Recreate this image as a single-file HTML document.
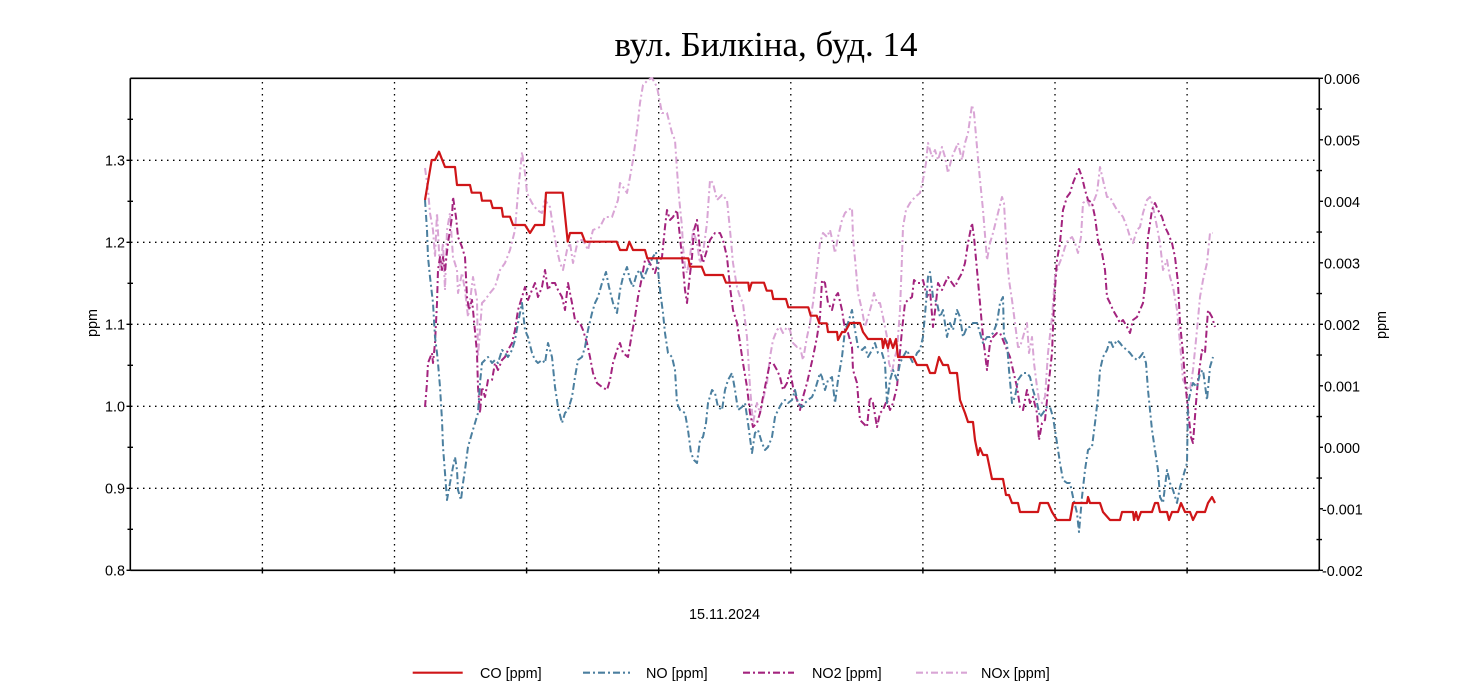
<!DOCTYPE html>
<html>
<head>
<meta charset="utf-8">
<style>
  html,body{margin:0;padding:0;background:#fff;}
  svg{display:block;}
  text{font-family:"Liberation Sans",Arial,sans-serif;font-size:14.4px;fill:#000;}
  .title{font-family:"Liberation Serif","Noto Serif CJK SC",serif;font-size:35px;}
</style>
</head>
<body>
<svg width="1471" height="697" viewBox="0 0 1471 697" xmlns="http://www.w3.org/2000/svg">
  <rect x="0" y="0" width="1471" height="697" fill="#fff"/>
  <!-- title -->
  <text class="title" x="766" y="56" text-anchor="middle">вул. Билкіна, буд. 14</text>

  <!-- grid -->
  <g stroke="#000" stroke-width="1.3" stroke-dasharray="1.5 4.5" fill="none">
    <line x1="131" y1="160.3" x2="1318" y2="160.3"/>
    <line x1="131" y1="242.3" x2="1318" y2="242.3"/>
    <line x1="131" y1="324.3" x2="1318" y2="324.3"/>
    <line x1="131" y1="406.3" x2="1318" y2="406.3"/>
    <line x1="131" y1="488.3" x2="1318" y2="488.3"/>
    <line x1="262.4" y1="82" x2="262.4" y2="569"/>
    <line x1="394.5" y1="82" x2="394.5" y2="569"/>
    <line x1="526.6" y1="82" x2="526.6" y2="569"/>
    <line x1="658.7" y1="82" x2="658.7" y2="569"/>
    <line x1="790.8" y1="82" x2="790.8" y2="569"/>
    <line x1="922.9" y1="82" x2="922.9" y2="569"/>
    <line x1="1055" y1="82" x2="1055" y2="569"/>
    <line x1="1187.1" y1="82" x2="1187.1" y2="569"/>
  </g>

  <!-- axes frame -->
  <g stroke="#000" stroke-width="1.6" fill="none">
    <line x1="130.3" y1="78.3" x2="1319.3" y2="78.3"/>
    <line x1="130.3" y1="78.3" x2="130.3" y2="570.3"/>
    <line x1="1319.3" y1="78.3" x2="1319.3" y2="570.3"/>
    <line x1="130.3" y1="570.3" x2="1319.3" y2="570.3"/>
  </g>
  <!-- ticks -->
  <g stroke="#000" stroke-width="1.4">
    <!-- left major -->
    <line x1="126.5" y1="160.3" x2="130.3" y2="160.3"/>
    <line x1="126.5" y1="242.3" x2="130.3" y2="242.3"/>
    <line x1="126.5" y1="324.3" x2="130.3" y2="324.3"/>
    <line x1="126.5" y1="406.3" x2="130.3" y2="406.3"/>
    <line x1="126.5" y1="488.3" x2="130.3" y2="488.3"/>
    <line x1="126.5" y1="570.3" x2="130.3" y2="570.3"/>
    <!-- left minor -->
    <line x1="127.5" y1="119.3" x2="133" y2="119.3"/>
    <line x1="127.5" y1="201.3" x2="133" y2="201.3"/>
    <line x1="127.5" y1="283.3" x2="133" y2="283.3"/>
    <line x1="127.5" y1="365.3" x2="133" y2="365.3"/>
    <line x1="127.5" y1="447.3" x2="133" y2="447.3"/>
    <line x1="127.5" y1="529.3" x2="133" y2="529.3"/>
    <!-- right major -->
    <line x1="1319.3" y1="78.3" x2="1323" y2="78.3"/>
    <line x1="1319.3" y1="139.8" x2="1323" y2="139.8"/>
    <line x1="1319.3" y1="201.3" x2="1323" y2="201.3"/>
    <line x1="1319.3" y1="262.8" x2="1323" y2="262.8"/>
    <line x1="1319.3" y1="324.3" x2="1323" y2="324.3"/>
    <line x1="1319.3" y1="385.8" x2="1323" y2="385.8"/>
    <line x1="1319.3" y1="447.3" x2="1323" y2="447.3"/>
    <line x1="1319.3" y1="508.8" x2="1323" y2="508.8"/>
    <line x1="1319.3" y1="570.3" x2="1323" y2="570.3"/>
    <!-- right minor -->
    <line x1="1316.5" y1="109.05" x2="1322" y2="109.05"/>
    <line x1="1316.5" y1="170.55" x2="1322" y2="170.55"/>
    <line x1="1316.5" y1="232.05" x2="1322" y2="232.05"/>
    <line x1="1316.5" y1="293.55" x2="1322" y2="293.55"/>
    <line x1="1316.5" y1="355.05" x2="1322" y2="355.05"/>
    <line x1="1316.5" y1="416.55" x2="1322" y2="416.55"/>
    <line x1="1316.5" y1="478.05" x2="1322" y2="478.05"/>
    <line x1="1316.5" y1="539.55" x2="1322" y2="539.55"/>
    <!-- bottom -->
    <line x1="262.4" y1="567.5" x2="262.4" y2="573.5"/>
    <line x1="394.5" y1="567.5" x2="394.5" y2="573.5"/>
    <line x1="526.6" y1="567.5" x2="526.6" y2="573.5"/>
    <line x1="658.7" y1="567.5" x2="658.7" y2="573.5"/>
    <line x1="790.8" y1="567.5" x2="790.8" y2="573.5"/>
    <line x1="922.9" y1="567.5" x2="922.9" y2="573.5"/>
    <line x1="1055" y1="567.5" x2="1055" y2="573.5"/>
    <line x1="1187.1" y1="567.5" x2="1187.1" y2="573.5"/>
  </g>

  <!-- left tick labels -->
  <g text-anchor="end">
    <text x="125" y="165.5">1.3</text>
    <text x="125" y="247.5">1.2</text>
    <text x="125" y="329.5">1.1</text>
    <text x="125" y="411.5">1.0</text>
    <text x="125" y="493.5">0.9</text>
    <text x="125" y="575.5">0.8</text>
  </g>
  <!-- right tick labels -->
  <g>
    <text x="1324" y="84">0.006</text>
    <text x="1324" y="145.5">0.005</text>
    <text x="1324" y="207">0.004</text>
    <text x="1324" y="268.5">0.003</text>
    <text x="1324" y="330">0.002</text>
    <text x="1324" y="391.5">0.001</text>
    <text x="1324" y="453">0.000</text>
    <text x="1322" y="514.5">-0.001</text>
    <text x="1322" y="576">-0.002</text>
  </g>

  <!-- axis labels -->
  <text x="0" y="0" text-anchor="middle" transform="translate(97,323) rotate(-90)">ppm</text>
  <text x="0" y="0" text-anchor="middle" transform="translate(1386,325) rotate(-90)">ppm</text>
  <text x="724.5" y="619" text-anchor="middle">15.11.2024</text>

  <!-- series -->
  <g fill="none" stroke-linejoin="round">
    <!-- NOx -->
    <polyline stroke="#d9a5d5" stroke-width="2" stroke-dasharray="7 3 2 3" points="425,168 428,190 430,213 433,230 435,257 437,213 440,270 443,243 445,290 447,230 450,213 453,257 457,270 458,293 462,273 465,290 468,317 473,277 477,300 478,357 482,303 485,300 490,293 495,287 500,270 505,263 510,250 515,230 518,193 522,152 525,173 527,193 532,203 537,210 542,213 545,200 550,207 553,227 557,250 560,263 563,270 567,250 570,243 573,263 578,240 583,240 588,250 593,230 600,227 605,217 612,217 618,200 620,183 623,187 627,193 630,177 633,160 637,130 640,103 643,85 648,80 652,78 657,87 662,113 667,113 672,133 675,140 677,170 679,197 682,227 683,247 685,267 687,273 690,257 693,230 697,243 700,263 703,253 707,223 710,180 713,183 717,200 722,195 727,200 730,230 733,263 737,287 740,297 743,303 747,337 750,387 753,423 757,403 760,413 763,400 767,383 770,357 773,340 777,330 780,327 783,333 787,327 790,330 793,343 797,347 800,347 803,360 807,337 810,323 813,303 817,270 820,243 823,233 827,237 830,230 833,243 835,253 838,237 842,220 845,213 848,210 852,208 853,237 856,270 858,293 862,310 865,327 868,317 872,303 874,293 877,303 880,303 883,317 887,337 889,363 892,373 894,360 897,350 900,310 902,257 903,227 906,210 910,203 915,197 920,193 923,180 926,163 928,143 932,157 935,150 938,160 942,147 945,157 948,173 952,157 955,150 958,143 962,160 965,143 968,133 972,105 974,113 977,147 980,180 983,210 987,260 990,243 993,233 998,213 1002,197 1004,203 1007,257 1009,280 1012,300 1015,323 1018,347 1020,347 1023,337 1027,323 1029,353 1032,337 1034,363 1037,387 1039,400 1042,403 1045,397 1048,353 1052,317 1055,277 1058,267 1062,257 1065,247 1068,240 1072,237 1075,243 1078,253 1081,237 1083,203 1087,200 1090,207 1093,203 1097,193 1100,167 1103,180 1107,197 1110,197 1113,203 1117,210 1120,213 1123,217 1127,227 1130,237 1133,243 1137,230 1140,227 1143,213 1147,200 1150,197 1153,207 1157,227 1160,243 1163,270 1167,260 1170,277 1173,287 1177,310 1180,343 1183,380 1187,387 1190,390 1193,370 1197,330 1200,297 1203,280 1207,263 1210,233 1213,233"/>
    <!-- NO2 -->
    <polyline stroke="#a3237e" stroke-width="2" stroke-dasharray="7 3 2 3" points="425,407 427,383 428,363 432,353 433,363 435,343 437,303 438,270 440,257 442,270 443,257 445,270 448,243 452,217 453,197 456,217 458,237 462,247 465,257 467,297 469,310 472,300 473,310 477,353 478,387 480,413 482,387 485,397 488,380 492,380 495,363 498,370 502,360 505,357 508,350 512,343 515,330 518,310 522,297 525,287 528,300 532,290 535,283 538,297 542,287 545,270 548,290 552,283 555,283 558,290 562,297 565,310 568,283 572,303 575,320 580,323 583,330 587,343 590,357 593,373 597,383 602,387 607,390 610,380 613,363 617,350 620,343 623,353 628,357 632,333 635,317 638,297 642,277 645,260 648,260 652,267 655,273 658,263 662,257 665,227 667,210 670,220 673,217 677,210 680,237 683,267 685,290 687,303 689,283 692,257 694,230 697,220 700,250 703,263 707,250 710,240 715,233 720,233 723,240 727,257 730,287 733,310 737,323 740,343 743,363 747,387 750,413 753,427 757,423 760,413 763,397 767,377 770,363 773,363 777,370 780,377 783,390 787,383 790,370 793,387 797,400 800,410 803,397 807,383 810,370 813,357 817,337 820,317 822,280 825,283 828,303 832,310 835,297 838,293 842,310 845,330 848,333 852,347 853,370 857,383 860,420 863,423 867,427 870,397 873,403 877,427 880,413 883,410 887,400 890,410 893,403 897,387 899,363 902,330 905,303 908,300 912,297 914,280 917,283 920,283 923,280 927,297 930,290 933,327 936,303 938,283 942,290 945,283 948,277 952,283 955,287 958,280 962,273 965,263 968,243 972,223 974,237 977,270 980,303 983,337 987,370 990,343 993,337 997,333 1000,333 1003,340 1007,350 1010,357 1013,370 1017,387 1020,407 1023,410 1027,390 1030,403 1033,397 1037,413 1039,440 1042,423 1045,420 1048,390 1052,353 1054,303 1057,260 1060,243 1063,210 1067,197 1070,193 1073,183 1077,173 1079,169 1082,177 1085,190 1088,200 1092,203 1095,217 1098,240 1102,253 1105,270 1107,297 1110,303 1113,310 1117,317 1120,323 1123,320 1127,327 1130,333 1133,320 1137,317 1140,310 1143,303 1146,277 1148,237 1152,210 1155,203 1158,210 1162,217 1165,227 1168,233 1172,243 1175,257 1178,283 1180,323 1183,353 1185,380 1188,410 1191,437 1193,443 1196,403 1198,380 1202,350 1205,353 1208,310 1212,317 1215,327"/>
    <!-- NO -->
    <polyline stroke="#4b7f9f" stroke-width="2" stroke-dasharray="7 3 2 3" points="425,200 427,230 428,257 430,277 433,303 435,337 437,353 438,363 440,387 442,420 443,447 445,473 447,500 450,483 453,467 455,457 457,470 458,490 461,500 463,483 465,470 468,447 472,433 475,423 478,413 480,383 482,363 485,360 488,357 492,363 495,360 498,363 502,350 505,353 508,357 512,350 515,340 518,323 522,303 525,330 528,337 532,353 535,360 538,363 542,360 545,363 548,343 552,357 555,387 558,407 562,423 565,413 568,410 572,397 575,377 578,360 582,357 585,347 588,330 592,313 595,303 598,297 602,283 606,272 609,287 613,303 617,313 620,290 623,277 627,267 630,280 633,287 637,273 640,270 643,280 647,270 650,263 653,257 656,252 658,270 660,290 663,313 665,333 668,353 672,357 675,370 677,403 680,410 685,413 688,430 691,453 694,460 697,463 700,440 703,437 706,423 708,403 712,390 715,393 718,407 722,410 725,390 728,380 732,373 735,390 738,410 742,407 745,403 748,423 752,453 755,433 758,430 762,443 765,450 768,447 772,437 775,417 778,410 782,403 785,400 788,403 792,400 795,390 798,403 802,407 805,403 808,400 812,397 815,390 820,373 822,377 825,390 828,380 832,377 835,403 838,380 842,357 845,330 848,323 852,310 855,330 858,347 862,350 865,347 868,357 872,350 875,343 878,353 882,353 885,363 887,403 890,380 893,370 897,380 900,363 903,357 907,350 910,357 913,363 917,353 920,350 923,337 926,303 928,277 930,272 933,297 937,303 940,317 943,310 947,337 950,323 953,330 957,310 960,317 963,337 967,327 970,327 973,323 977,323 980,333 983,343 987,337 990,337 993,333 997,323 1000,303 1003,297 1004,337 1007,343 1009,370 1012,403 1015,397 1018,380 1020,377 1023,373 1027,373 1030,377 1033,390 1037,403 1040,417 1043,413 1047,407 1050,407 1053,417 1057,443 1060,463 1063,480 1067,483 1070,483 1073,497 1077,513 1079,532 1082,497 1085,470 1088,450 1092,447 1095,423 1098,397 1100,370 1103,357 1107,350 1110,340 1113,347 1117,340 1120,343 1123,347 1127,350 1130,353 1133,357 1137,360 1140,357 1143,353 1146,363 1148,390 1152,430 1155,450 1158,470 1160,497 1163,503 1167,470 1170,483 1173,490 1177,503 1180,487 1183,477 1187,463 1188,403 1191,390 1193,383 1197,387 1200,373 1203,370 1207,400 1210,367 1213,357"/>
    <!-- CO -->
    <polyline stroke="#cf1518" stroke-width="2.2" points="425,200 431.7,160 435,160 439,151.7 445,167 455,167 457,185 470,185 471.7,192.7 480.7,192.7 482,200.7 490.7,200.7 492.7,208 501.7,208 503,216.7 510,216.7 513,225 525,225 530,233 535,225 544,225 546,192.7 562.7,192.7 567.7,241.7 570,233 581.7,233 585,241.7 616.7,241.7 620,250 626.7,250 629.3,241.7 633,250 645,250 647.3,258.3 688.3,258.3 690,266.7 701.7,266.7 705,275 723,275 726,282.7 748.3,282.7 749.3,290.7 751.7,282.7 764,282.7 766.7,290.7 771.7,290.7 773.3,299 786,299 788.3,307.3 808.3,307.3 810.7,315.7 816.7,315.7 819.3,323.3 826.7,323.3 828,332 837,332 838,340 842,332 845,332 850,323 860,323 863,332 868,339 882,339 883,348 885,339 888,348 890,339 893,348 896,339 898,357 913,357 917,365 927,365 930,373 935,373 939,357 943,365 948,365 950,373 957,373 960,400 965,413 968,422 973,422 975,440 978,455 980,448 983,455 987,455 992,479 1003,479 1006,495 1009,495 1012,503 1018,503 1020,512 1038,512 1040,503 1048,503 1052,512 1057,520 1070,520 1073,503 1087,503 1088,497 1090,503 1100,503 1103,512 1110,520 1120,520 1122,512 1133,512 1134,520 1136,512 1138,520 1141,512 1152,512 1155,503 1158,503 1160,512 1167,512 1169,520 1172,512 1178,512 1181,503 1185,512 1190,512 1193,520 1197,512 1205,512 1208,503 1212,497 1215,503"/>
  </g>

  <!-- legend -->
  <g fill="none" stroke-width="2.2">
    <line x1="412.7" y1="672.7" x2="462.7" y2="672.7" stroke="#cf1518"/>
    <line x1="583" y1="672.7" x2="630" y2="672.7" stroke="#4b7f9f" stroke-dasharray="7 3 2 3"/>
    <line x1="743" y1="672.7" x2="794" y2="672.7" stroke="#a3237e" stroke-dasharray="7 3 2 3"/>
    <line x1="916" y1="672.7" x2="967" y2="672.7" stroke="#d9a5d5" stroke-dasharray="7 3 2 3"/>
  </g>
  <text x="480" y="678">CO [ppm]</text>
  <text x="646" y="678">NO [ppm]</text>
  <text x="812" y="678">NO2 [ppm]</text>
  <text x="981" y="678">NOx [ppm]</text>
</svg>
</body>
</html>
